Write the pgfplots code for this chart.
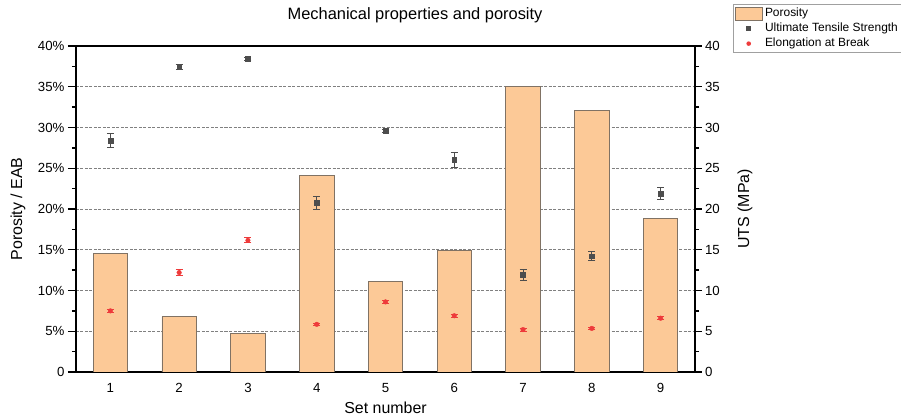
\documentclass[border=0pt]{standalone}
\usepackage{fontspec}
\setmainfont{Liberation Sans}
\usepackage{pgfplots}
\pgfplotsset{compat=1.18}
\usepackage{pgfplotstable}
\definecolor{barfill}{RGB}{252,201,151}
\definecolor{baredge}{RGB}{128,114,100}
\definecolor{utsc}{RGB}{77,77,77}
\definecolor{eabc}{RGB}{238,59,59}
\definecolor{gridc}{RGB}{128,128,128}
\definecolor{legc}{RGB}{160,160,160}

\pgfplotstableread{
x por
1 14.5
2 6.8
3 4.7
4 24.1
5 11.1
6 14.95
7 35.0
8 32.1
9 18.8
}\porosity

\pgfplotstableread{
x uts err
1 28.4 0.9
2 37.4 0.3
3 38.4 0.15
4 20.8 0.8
5 29.6 0.2
6 26.0 0.95
7 11.9 0.7
8 14.2 0.55
9 21.9 0.75
}\uts

\pgfplotstableread{
x eab err
1 7.5 0.2
2 12.2 0.35
3 16.15 0.3
4 5.85 0.15
5 8.6 0.2
6 6.9 0.15
7 5.2 0.2
8 5.35 0.15
9 6.6 0.2
}\eab

\begin{document}
\begin{tikzpicture}
\path[use as bounding box] (-76bp,-45bp) rectangle (825bp,372bp);
\begin{axis}[
  at={(0,0)}, anchor=south west,
  scale only axis, width=619bp, height=326bp,
  xmin=0.5, xmax=9.5, ymin=0, ymax=40,
  xtick={1,...,9},
  ytick={0,5,...,40},
  yticklabels={0,5\%,10\%,15\%,20\%,25\%,30\%,35\%,40\%},
  minor y tick num=1,
  tick align=outside,
  ytick pos=left,
  xtick pos=bottom,
  x tick style={draw=none},
  major tick length=8bp,
  minor tick length=4bp,
  y tick style={line width=1.3bp, black},
  axis line style={line width=1.5bp},
  /pgf/number format/assume math mode=true,
  ticklabel style={font=\fontsize{13.3}{15}\selectfont},
  ymajorgrids,
  grid style={gridc, line width=0.7bp, dash pattern=on 3bp off 1.5bp},
  title={Mechanical properties and porosity},
  title style={at={(axis description cs:0.5477,1.0644)}, anchor=base, font=\fontsize{16.5}{19}\selectfont},
  xlabel={Set number},
  xlabel style={at={(axis description cs:0.5,-0.1288)}, anchor=base, font=\fontsize{16}{19}\selectfont},
  ylabel={Porosity / EAB},
  ylabel style={at={(axis description cs:-0.0937,0.5)}, anchor=center, font=\fontsize{16}{19}\selectfont},
  legend style={at={(axis description cs:1.0614,1.1288)}, anchor=north west,
    draw=legc, line width=0.8bp, font=\fontsize{12}{14}\selectfont,
    inner xsep=2bp, inner ysep=1.5bp, row sep=0pt,
    nodes={text height=8.6bp, text depth=2.5bp}},
  legend cell align=left,
]
\addlegendimage{legend image code/.code={\draw[fill=barfill, draw=baredge, line width=0.6bp] (0bp,-6.5bp) rectangle (27bp,6.5bp);}}
\addlegendentry{Porosity}
\addlegendimage{legend image code/.code={\fill[utsc, draw=none] (10.5bp,-2.5bp) rectangle (15.5bp,2.5bp); \path[draw=none, fill=none] (0bp,0bp) -- (27bp,0bp);}}
\addlegendentry{Ultimate Tensile Strength}
\addlegendimage{legend image code/.code={\fill[eabc, draw=none] (13bp,0bp) circle (2.3bp); \path[draw=none, fill=none] (0bp,0bp) -- (27bp,0bp);}}
\addlegendentry{Elongation at Break}
\addplot[forget plot, ybar, bar width=0.5, bar shift=0pt, fill=barfill, draw=baredge, line width=0.8bp]
  table[x=x, y=por] {\porosity};
\addplot[forget plot, only marks, mark=square*, mark size=2.4bp, color=utsc,
  error bars/.cd, y dir=both, y explicit,
  error bar style={line width=0.9bp, utsc},
  error mark options={rotate=90, mark size=3.5bp, line width=0.9bp, utsc}]
  table[x=x, y=uts, y error=err] {\uts};
\addplot[forget plot, only marks, mark=*, mark size=2.3bp, color=eabc,
  error bars/.cd, y dir=both, y explicit,
  error bar style={line width=0.9bp, eabc},
  error mark options={rotate=90, mark size=3.5bp, line width=0.9bp, eabc}]
  table[x=x, y=eab, y error=err] {\eab};
\end{axis}
\begin{axis}[
  at={(0,0)}, anchor=south west,
  scale only axis, width=619bp, height=326bp,
  xmin=0.5, xmax=9.5, ymin=0, ymax=40,
  axis x line=none,
  axis y line*=right,
  y axis line style={-, line width=1.5bp},
  ytick={0,5,...,40},
  minor y tick num=1,
  tick align=outside,
  major tick length=6.5bp,
  minor tick length=4bp,
  y tick style={line width=1.3bp, black},
  /pgf/number format/assume math mode=true,
  ticklabel style={font=\fontsize{13.3}{15}\selectfont},
  ylabel={UTS (MPa)},
  ylabel style={at={(axis description cs:1.0808,0.5)}, anchor=center, font=\fontsize{16}{19}\selectfont},
]
\end{axis}
\end{tikzpicture}
\end{document}
